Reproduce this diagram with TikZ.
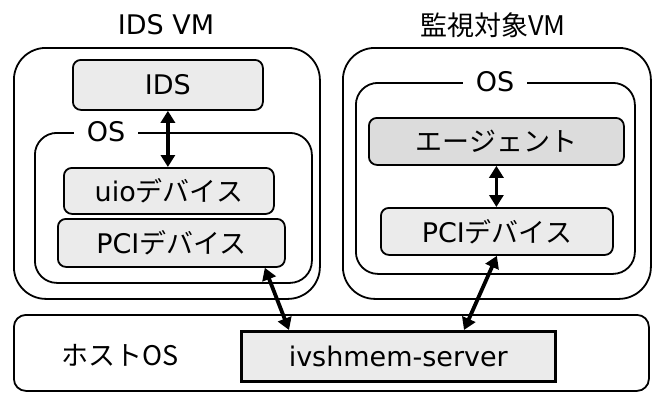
\documentclass[tikz,border=0pt]{standalone}
\usepackage{fontspec}
\setmainfont{DejaVu Sans}
\newfontfamily\jp{Noto Sans CJK JP}
\usetikzlibrary{arrows.meta,calc}
\definecolor{boxgray}{HTML}{EBEBEB}
\definecolor{agentgray}{HTML}{DCDCDC}
\begin{document}
\begin{tikzpicture}[x=1pt,y=-1pt,
  txt/.style={font=\fontsize{27}{32}\selectfont},
  vmbox/.style={draw, line width=1.8pt, rounded corners=32pt, anchor=north west, inner sep=0pt},
  osbox/.style={draw, line width=1.8pt, rounded corners=22pt, anchor=north west, inner sep=0pt},
  compbox/.style={draw, line width=1.8pt, rounded corners=8pt, fill=boxgray, anchor=north west, inner sep=0pt, txt},
  oslabel/.style={fill=white, inner xsep=13pt, inner ysep=2pt, txt},
  arr/.style={line width=3.8pt, {Triangle[length=12pt,width=14pt]}-{Triangle[length=12pt,width=14pt]}}
]
\useasboundingbox (0,0) rectangle (654,392);
% titles
\node[txt] (tL) at (166,25) {IDS VM};
\node[txt] (tR) at (493,25) {\jp{監視対象}VM};
% VM boxes
\node[vmbox, minimum width=306pt, minimum height=251pt] (vmL) at (13,47) {};
\node[vmbox, minimum width=308pt, minimum height=251pt] (vmR) at (342,47) {};
% OS boxes
\node[osbox, minimum width=277pt, minimum height=150pt] (osL) at (34,132) {};
\node[osbox, minimum width=279pt, minimum height=191pt] (osR) at (355,82) {};
\node[oslabel] (osLlab) at (106,132) {OS};
\node[oslabel] (osRlab) at (495,82) {OS};
% component boxes
\node[compbox, minimum width=190pt, minimum height=50pt] (ids) at (72,59) {IDS};
\node[compbox, minimum width=210pt, minimum height=46pt] (uio) at (63,167) {uio\jp{デバイス}};
\node[compbox, minimum width=227pt, minimum height=48pt] (pcil) at (57,218) {PCI\jp{デバイス}};
\node[compbox, fill=agentgray, minimum width=255pt, minimum height=47pt] (agent) at (368,117) {\jp{エージェント}};
\node[compbox, minimum width=232pt, minimum height=47pt] (pcir) at (380,207) {PCI\jp{デバイス}};
% host
\node[draw, line width=1.8pt, rounded corners=12pt, anchor=north west, minimum width=635pt, minimum height=76pt, inner sep=0pt] (host) at (13,314) {};
\node[txt] (hostlab) at (120,355) {\jp{ホスト}OS};
\node[draw, line width=2.6pt, fill=boxgray, anchor=north west, minimum width=314pt, minimum height=50pt, inner sep=0pt, txt] (ivs) at (240,330) {ivshmem-server};
% arrows
\draw[arr] (ids.south) -- (ids.south |- uio.north);
\draw[arr] (agent.south) -- (agent.south |- pcir.north);
\draw[arr] ($(pcil.south east)+(-21,0)$) -- ($(ivs.north west)+(49,0)$);
\draw[arr] (pcir.south) -- ($(ivs.north west)+(224,0)$);
\end{tikzpicture}
\end{document}
